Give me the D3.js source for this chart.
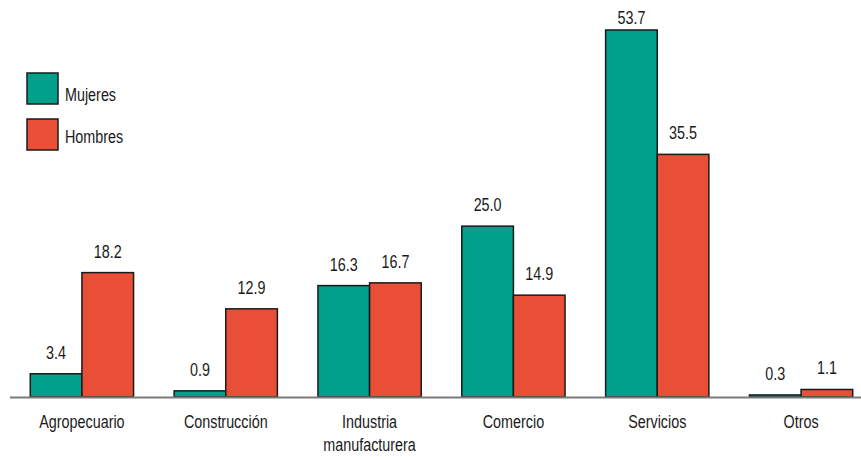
<!DOCTYPE html>
<html><head><meta charset="utf-8">
<script src="https://cdn.jsdelivr.net/npm/d3@7/dist/d3.min.js"></script>
<style>
html,body{margin:0;padding:0;background:#fff;}
text{font-family:"Liberation Sans",Arial,sans-serif;fill:#1a1a1a;}
</style></head>
<body><svg id="c" width="861" height="457"></svg>
<script>
const categories = ["Agropecuario","Construcción","Industria manufacturera","Comercio","Servicios","Otros"];
const categoryLines = [["Agropecuario"],["Construcción"],["Industria","manufacturera"],["Comercio"],["Servicios"],["Otros"]];
const seriesNames = ["Mujeres","Hombres"];
const mujeres = [3.4, 0.9, 16.3, 25.0, 53.7, 0.3];
const hombres = [18.2, 12.9, 16.7, 14.9, 35.5, 1.1];
const colors = ["#00A08A","#E84F36"];

const svg = d3.select("#c");
const baseY = 397, topY = 30;
const SX = 0.82, FS = 17.5;
const x0 = d3.scaleBand().domain(categories).range([10, 873]).paddingInner(0.282).paddingOuter(0.141);
const x1 = d3.scaleBand().domain(seriesNames).range([0, x0.bandwidth()]);
const y = d3.scaleLinear().domain([0, 53.7]).range([baseY, topY]);

const data = categories.map((c,i)=>({cat:c, vals:[{s:"Mujeres",v:mujeres[i]},{s:"Hombres",v:hombres[i]}]}));

function ntext(parent, x, yy, str, anchor){
  return parent.append("text")
    .attr("transform", `translate(${x},${yy}) scale(${SX},1)`)
    .attr("text-anchor", anchor || "middle").attr("font-size", FS).text(str);
}

const g = svg.append("g");
data.forEach(d=>{
  const gg = g.append("g").attr("transform", `translate(${x0(d.cat)},0)`);
  d.vals.forEach((v,i)=>{
    gg.append("rect")
      .attr("x", x1(v.s)).attr("width", x1.bandwidth())
      .attr("y", y(v.v)).attr("height", baseY - y(v.v))
      .attr("fill", colors[i]).attr("stroke","#1a1a1a").attr("stroke-width",1.5);
    ntext(gg, x1(v.s)+x1.bandwidth()/2, Math.max(y(v.v)-15, 24), v.v.toFixed(1));
  });
});

// baseline
svg.append("line").attr("x1",10).attr("x2",861).attr("y1",baseY+0.5).attr("y2",baseY+0.5)
  .attr("stroke","#7a7a7a").attr("stroke-width",2);

// category labels
categories.forEach((c,i)=>{
  categoryLines[i].forEach((ln,j)=>{
    ntext(svg, x0(c)+x0.bandwidth()/2, 428 + j*23, ln);
  });
});

// legend
seriesNames.forEach((s,i)=>{
  svg.append("rect").attr("x",27).attr("y",73+i*46).attr("width",31).attr("height",31)
    .attr("fill",colors[i]).attr("stroke","#1a1a1a").attr("stroke-width",1.5);
  ntext(svg, 65, 101+i*42, s, "start");
});
</script></body></html>
